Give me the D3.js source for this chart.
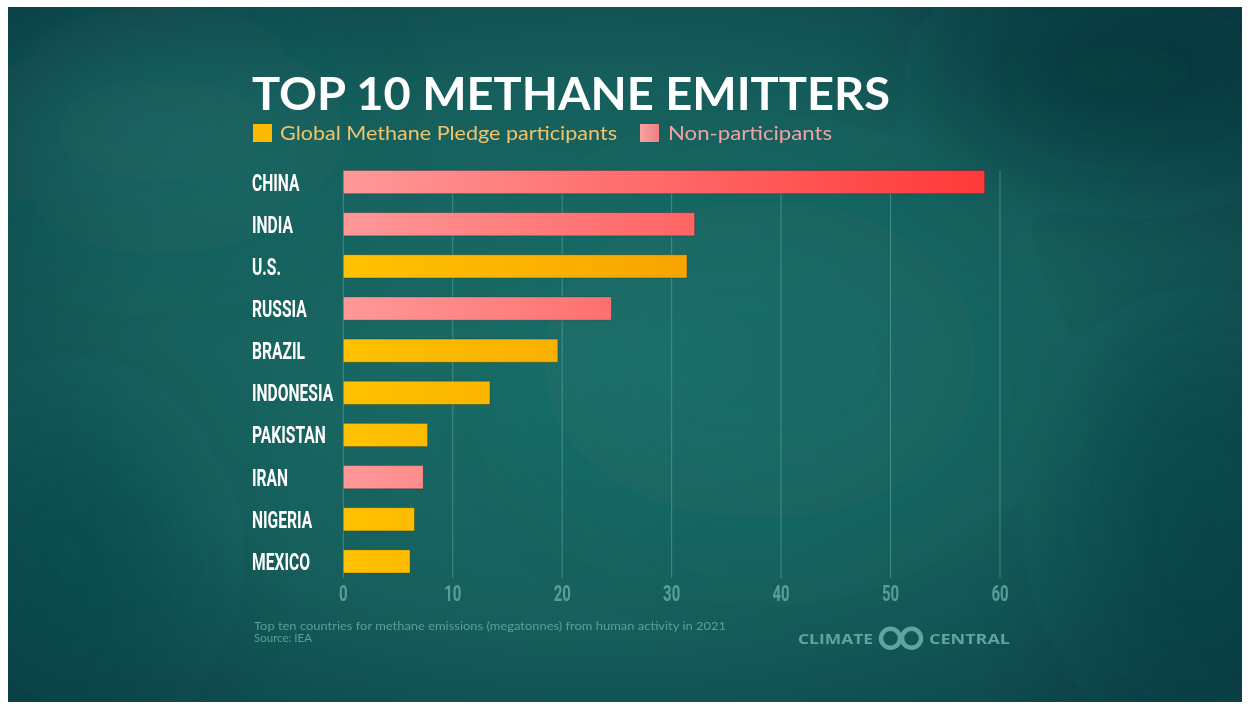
<!DOCTYPE html>
<html lang="en">
<head>
  <meta charset="UTF-8" />
  <title>Top 10 Methane Emitters</title>
  <script src="https://d3js.org/d3.v7.min.js"></script>
  <style>
    body {
      margin: 0;
      padding: 0;
      background: #ffffff;
    }
    svg {
      display: block;
    }
  </style>
</head>
<body>
  <svg id="chart" width="1250" height="710"></svg>

  <script>
    // values (megatonnes, 2021)
    const countries = ["CHINA", "INDIA", "U.S.", "RUSSIA", "BRAZIL", "INDONESIA", "PAKISTAN", "IRAN", "NIGERIA", "MEXICO"];
    const emissions = [58.6, 32.1, 31.4, 24.5, 19.6, 13.4, 7.7, 7.3, 6.5, 6.1];
    const pledge = [false, false, true, false, true, true, true, false, true, true];
    const xTicks = [0, 10, 20, 30, 40, 50, 60];
    const legendLabels = ["Global Methane Pledge participants", "Non-participants"];

    const svg = d3.select("#chart");
    const defs = svg.append("defs");

    // background panel
    const bg = defs.append("radialGradient").attr("id", "bg")
      .attr("cx", "48%").attr("cy", "50%").attr("r", "70%");
    bg.append("stop").attr("offset", "0%").attr("stop-color", "#1a6e68");
    bg.append("stop").attr("offset", "55%").attr("stop-color", "#165f5c");
    bg.append("stop").attr("offset", "100%").attr("stop-color", "#0b3f46");

    const blur = defs.append("filter").attr("id", "blur")
      .attr("x", "-50%").attr("y", "-50%").attr("width", "200%").attr("height", "200%");
    blur.append("feGaussianBlur").attr("stdDeviation", 55);

    defs.append("clipPath").attr("id", "panel")
      .append("rect")
      .attr("x", 8).attr("y", 7)
      .attr("width", 1234).attr("height", 695);

    const back = svg.append("g").attr("clip-path", "url(#panel)");
    back.append("rect")
      .attr("x", 8).attr("y", 7)
      .attr("width", 1234).attr("height", 695)
      .attr("fill", "url(#bg)");

    // soft texture blobs, kept inside the panel
    const blobs = back.append("g").attr("filter", "url(#blur)");
    blobs.append("ellipse").attr("cx", 160).attr("cy", 130).attr("rx", 160).attr("ry", 90)
      .attr("fill", "#21746e").attr("opacity", 0.45);
    blobs.append("ellipse").attr("cx", 1130).attr("cy", 70).attr("rx", 180).attr("ry", 90)
      .attr("fill", "#072f36").attr("opacity", 0.55);
    blobs.append("ellipse").attr("cx", 1200).attr("cy", 520).attr("rx", 110).attr("ry", 180)
      .attr("fill", "#0a3a40").attr("opacity", 0.45);
    blobs.append("ellipse").attr("cx", 70).attr("cy", 560).attr("rx", 100).attr("ry", 140)
      .attr("fill", "#0c444a").attr("opacity", 0.45);
    blobs.append("ellipse").attr("cx", 760).attr("cy", 360).attr("rx", 220).attr("ry", 160)
      .attr("fill", "#1b746d").attr("opacity", 0.3);

    // scales
    const x = d3.scaleLinear().domain([0, 60]).range([343.3, 1000]);
    const y = d3.scaleBand().domain(countries).range([161, 582.5])
      .paddingInner(0.45).paddingOuter(0.225);

    // bar gradients (span the plot, so long bars get deeper)
    const gold = defs.append("linearGradient").attr("id", "gold")
      .attr("gradientUnits", "userSpaceOnUse")
      .attr("x1", x(0)).attr("x2", x(60)).attr("y1", 0).attr("y2", 0);
    gold.append("stop").attr("offset", "0%").attr("stop-color", "#ffc200");
    gold.append("stop").attr("offset", "100%").attr("stop-color", "#f08a00");

    const pink = defs.append("linearGradient").attr("id", "pink")
      .attr("gradientUnits", "userSpaceOnUse")
      .attr("x1", x(0)).attr("x2", x(60)).attr("y1", 0).attr("y2", 0);
    pink.append("stop").attr("offset", "0%").attr("stop-color", "#ff9898");
    pink.append("stop").attr("offset", "100%").attr("stop-color", "#ff3636");

    const pinkKey = defs.append("linearGradient").attr("id", "pinkKey");
    pinkKey.append("stop").attr("offset", "0%").attr("stop-color", "#f7a3a3");
    pinkKey.append("stop").attr("offset", "100%").attr("stop-color", "#f08080");

    // title
    svg.append("text")
      .attr("x", 252).attr("y", 110)
      .attr("textLength", 638).attr("lengthAdjust", "spacingAndGlyphs")
      .attr("font-family", "Lato, 'Open Sans', sans-serif")
      .attr("font-weight", 700)
      .attr("font-size", 46)
      .attr("fill", "#ffffff")
      .text("TOP 10 METHANE EMITTERS");

    // legend
    const legend = svg.append("g");
    legend.append("rect").attr("x", 253).attr("y", 124).attr("width", 19).attr("height", 18)
      .attr("fill", "#fdb900");
    legend.append("text").attr("x", 280).attr("y", 140)
      .attr("textLength", 337).attr("lengthAdjust", "spacingAndGlyphs")
      .attr("font-family", "Lato, 'Open Sans', sans-serif").attr("font-size", 20)
      .attr("fill", "#f1c46c")
      .text(legendLabels[0]);
    legend.append("rect").attr("x", 640).attr("y", 124).attr("width", 19).attr("height", 18)
      .attr("fill", "url(#pinkKey)");
    legend.append("text").attr("x", 668).attr("y", 140)
      .attr("textLength", 164).attr("lengthAdjust", "spacingAndGlyphs")
      .attr("font-family", "Lato, 'Open Sans', sans-serif").attr("font-size", 20)
      .attr("fill", "#f2a2a2")
      .text(legendLabels[1]);

    // gridlines
    svg.append("g").selectAll("line")
      .data(xTicks)
      .enter()
      .append("line")
      .attr("x1", d => x(d)).attr("x2", d => x(d))
      .attr("y1", y(countries[0])).attr("y2", 578)
      .attr("stroke", "#5fa8a2")
      .attr("stroke-opacity", 0.6)
      .attr("stroke-width", 1);

    // tick labels
    svg.append("g").selectAll("text")
      .data(xTicks)
      .enter()
      .append("text")
      .attr("transform", d => `translate(${x(d)},601) scale(0.68,1)`)
      .attr("text-anchor", "middle")
      .attr("font-family", "Roboto, sans-serif")
      .attr("font-weight", 700)
      .attr("font-size", 22)
      .attr("fill", "#5b9e99")
      .text(d => d);

    // bars
    const rows = countries.map((c, i) => ({ country: c, value: emissions[i], pledge: pledge[i] }));

    svg.append("g").selectAll("rect")
      .data(rows)
      .enter()
      .append("rect")
      .attr("x", x(0))
      .attr("y", d => y(d.country))
      .attr("width", d => x(d.value) - x(0))
      .attr("height", y.bandwidth())
      .attr("fill", d => d.pledge ? "url(#gold)" : "url(#pink)")
      .attr("stroke", "rgba(0,0,0,0.22)")
      .attr("stroke-width", 1);

    // country labels
    svg.append("g").selectAll("text")
      .data(rows)
      .enter()
      .append("text")
      .attr("transform", d => `translate(252,${y(d.country) + y.bandwidth() / 2 + 8.5}) scale(0.68,1)`)
      .attr("font-family", "Roboto, sans-serif")
      .attr("font-weight", 700)
      .attr("font-size", 23)
      .attr("fill", "#ffffff")
      .text(d => d.country);

    // footnote
    const note = svg.append("text")
      .attr("font-family", "Lato, 'Open Sans', sans-serif")
      .attr("font-size", 11.5)
      .attr("fill", "#5b9f9a");
    note.append("tspan").attr("x", 254).attr("y", 630)
      .attr("textLength", 472).attr("lengthAdjust", "spacingAndGlyphs")
      .text("Top ten countries for methane emissions (megatonnes) from human activity in 2021");
    note.append("tspan").attr("x", 254).attr("y", 641.5)
      .text("Source: IEA");

    // logo
    const logo = svg.append("g").attr("fill", "#5fa4a0");
    logo.append("text").attr("x", 798).attr("y", 643.5)
      .attr("textLength", 75).attr("lengthAdjust", "spacingAndGlyphs")
      .attr("font-family", "'Open Sans', Lato, sans-serif").attr("font-weight", 700)
      .attr("font-size", 14.5).text("CLIMATE");
    logo.append("text").attr("x", 929).attr("y", 643.5)
      .attr("textLength", 81).attr("lengthAdjust", "spacingAndGlyphs")
      .attr("font-family", "'Open Sans', Lato, sans-serif").attr("font-weight", 700)
      .attr("font-size", 14.5).text("CENTRAL");
    logo.append("circle").attr("cx", 890.5).attr("cy", 638.3).attr("r", 9.5)
      .attr("fill", "none").attr("stroke", "#5fa4a0").attr("stroke-width", 4.5);
    logo.append("circle").attr("cx", 911.5).attr("cy", 638.3).attr("r", 9.5)
      .attr("fill", "none").attr("stroke", "#5fa4a0").attr("stroke-width", 4.5);
  </script>
</body>
</html>
